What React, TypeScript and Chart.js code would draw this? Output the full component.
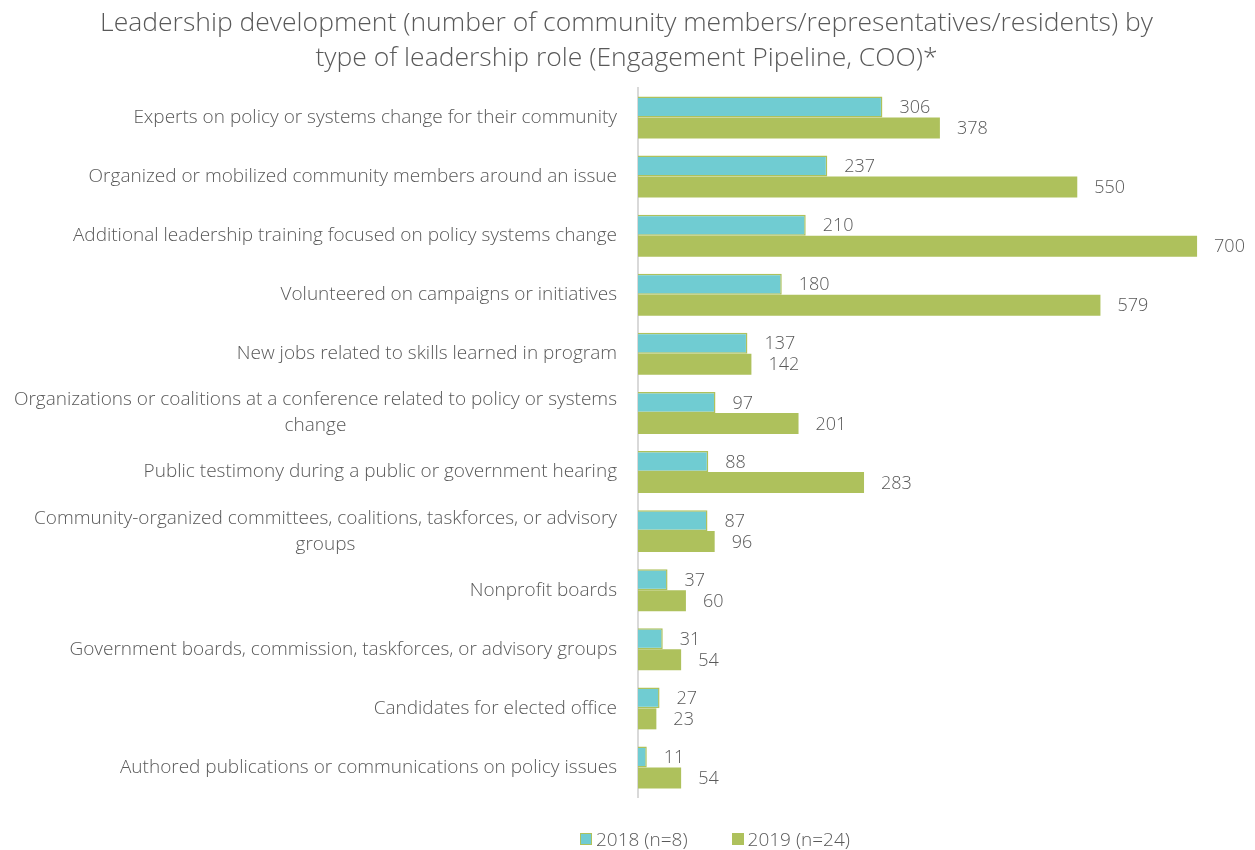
import React, { useEffect, useRef } from "react";
import { Chart, registerables } from "chart.js";

Chart.register(...registerables);

const categories: (string | string[])[] = [
  "Experts on policy or systems change for their community",
  "Organized or mobilized community members around an issue",
  "Additional leadership training focused on policy systems change",
  "Volunteered on campaigns or initiatives",
  "New jobs related to skills learned in program",
  ["Organizations or coalitions at a conference related to policy or systems", "change"],
  "Public testimony during a public or government hearing",
  ["Community-organized committees, coalitions, taskforces, or advisory", "groups"],
  "Nonprofit boards",
  "Government boards, commission, taskforces, or advisory groups",
  "Candidates for elected office",
  "Authored publications or communications on policy issues",
];

const values2018 = [306, 237, 210, 180, 137, 97, 88, 87, 37, 31, 27, 11];
const values2019 = [378, 550, 700, 579, 142, 201, 283, 96, 60, 54, 23, 54];

const seriesLabels = ["2018 (n=8)", "2019 (n=24)"];
const titleLines = [
  "Leadership development (number of community members/representatives/residents) by",
  "type of leadership role (Engagement Pipeline, COO)*",
];

const TEAL = "#70CCD2";
const GREEN = "#AEC15C";
const TEXT = "#595959";
const FONT = "'Open Sans', 'Noto Sans', sans-serif";

const dataLabelPlugin = {
  id: "dataLabels",
  afterDatasetsDraw(chart: any) {
    const ctx = chart.ctx;
    ctx.save();
    ctx.font = `300 18px ${FONT}`;
    ctx.fillStyle = TEXT;
    ctx.textAlign = "left";
    ctx.textBaseline = "middle";
    chart.data.datasets.forEach((ds: any, i: number) => {
      const meta = chart.getDatasetMeta(i);
      meta.data.forEach((el: any, j: number) => {
        ctx.fillText(String(ds.data[j]), el.x + 17, el.y + 1);
      });
    });
    ctx.restore();
  },
};

// category labels: single lines right-aligned, wrapped lines centred under each other
const categoryLabelPlugin = {
  id: "categoryLabels",
  afterDraw(chart: any) {
    const ctx = chart.ctx;
    const yScale = chart.scales.y;
    const rightX = yScale.right - 21;
    const lineH = 26;
    ctx.save();
    ctx.font = `300 19px ${FONT}`;
    ctx.fillStyle = TEXT;
    ctx.textBaseline = "middle";
    (chart.data.labels as (string | string[])[]).forEach((lab, i) => {
      const yc = yScale.getPixelForValue(i);
      if (Array.isArray(lab)) {
        const widths = lab.map((l) => ctx.measureText(l).width);
        const maxW = Math.max(...widths);
        const cx = rightX - maxW / 2;
        const y0 = yc - ((lab.length - 1) * lineH) / 2;
        ctx.textAlign = "center";
        lab.forEach((l, k) => ctx.fillText(l, cx, y0 + k * lineH));
      } else {
        ctx.textAlign = "right";
        ctx.fillText(lab, rightX, yc);
      }
    });
    ctx.restore();
  },
};

export default function App() {
  const ref = useRef<HTMLCanvasElement | null>(null);

  useEffect(() => {
    document.documentElement.style.overflow = "hidden";
    const chart = new Chart(ref.current as HTMLCanvasElement, {
      type: "bar",
      data: {
        labels: categories,
        datasets: [
          {
            label: seriesLabels[0],
            data: values2018,
            backgroundColor: TEAL,
            borderColor: GREEN,
            borderWidth: 1.5,
            borderSkipped: "left",
            barPercentage: 1,
            categoryPercentage: 0.71,
          },
          {
            label: seriesLabels[1],
            data: values2019,
            backgroundColor: GREEN,
            borderWidth: 0,
            barPercentage: 1,
            categoryPercentage: 0.71,
          },
        ],
      },
      options: {
        indexAxis: "y",
        animation: false,
        responsive: true,
        maintainAspectRatio: false,
        layout: { padding: { left: 0, right: 2, top: 0, bottom: 53 } },
        plugins: {
          legend: { display: false },
          tooltip: { enabled: false },
          title: {
            display: true,
            text: titleLines,
            color: TEXT,
            font: { family: FONT, size: 26.5, weight: "300" as any, lineHeight: 1.32 },
            padding: { top: -2, bottom: 12 },
          },
        },
        scales: {
          x: {
            display: false,
            min: 0,
            max: 760,
          },
          y: {
            grid: { display: false },
            border: { display: true, color: "#D9D9D9", width: 2 },
            ticks: { display: false },
            afterFit(scale: any) {
              scale.width = 630;
            },
          },
        },
      },
      plugins: [dataLabelPlugin, categoryLabelPlugin],
    });
    return () => chart.destroy();
  }, []);

  const legendItem = (color: string, border: string, text: string) => (
    <div style={{ display: "flex", alignItems: "center", marginRight: 44 }}>
      <span
        style={{
          display: "inline-block",
          width: 10,
          height: 10,
          background: color,
          border: `1.5px solid ${border}`,
          marginRight: 4,
        }}
      />
      <span style={{ fontFamily: FONT, fontWeight: 300, fontSize: 19, color: TEXT }}>{text}</span>
    </div>
  );

  return (
    <div style={{ position: "relative", width: 1239, height: 842 }}>
      <canvas ref={ref} />
      <div
        style={{
          position: "absolute",
          left: 572,
          top: 818,
          display: "flex",
          alignItems: "center",
          whiteSpace: "nowrap",
        }}
      >
        {legendItem(TEAL, GREEN, seriesLabels[0])}
        {legendItem(GREEN, GREEN, seriesLabels[1])}
      </div>
    </div>
  );
}
